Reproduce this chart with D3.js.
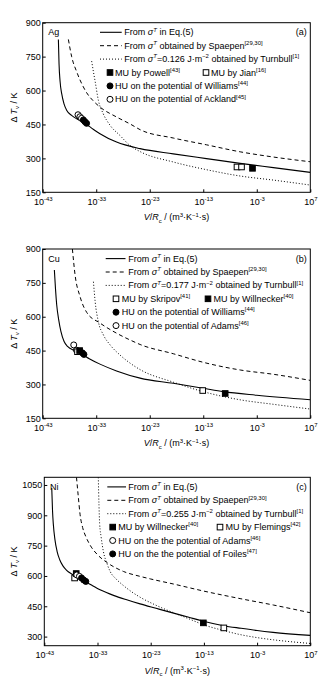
<!DOCTYPE html>
<html><head><meta charset="utf-8">
<script src="https://cdn.jsdelivr.net/npm/d3@7"></script>
<style>
body{margin:0;background:#fff}
svg{display:block}
text{font-family:"Liberation Sans",Arial,sans-serif;fill:#000}
</style>
</head><body>
<svg id="chart" width="333" height="684"></svg>
<script>
// ---------------- data (x = log10(V/Rc), y = ΔTv in K) ----------------
const xTickExps = [-43, -33, -23, -13, -3, 7];
const agYTicks = [150, 300, 450, 600, 750, 900];
const cuYTicks = [150, 300, 450, 600, 750, 900];
const niYTicks = [300, 450, 600, 750, 900, 1050];

const agSolid = [[-40.07,826],[-39.95,720],[-39.75,640],[-39.45,586],[-39.0,540],[-38.5,512],[-37.6,490],[-36.65,475],[-35.5,462],[-34.78,450],[-33.5,428],[-32.3,409],[-29.2,372],[-24.8,343],[-18.6,320],[-12.4,299],[-6.1,278],[0.1,259],[7,238]];
const agDashed = [[-38.2,826],[-37.58,749],[-36.65,683],[-35.6,625],[-34.78,590],[-33.5,553],[-32.3,527],[-29.2,483],[-26.5,450],[-24.8,427],[-18.6,390],[-12.4,360],[-6.1,329],[0.1,306],[7,285]];
const agDotted = [[-33.85,730],[-33.5,680],[-33.2,640],[-32.6,557],[-31.7,498],[-30.4,446],[-28.55,401],[-26.7,357],[-24.8,330],[-18.6,284],[-12.4,250],[-6.1,222],[0.1,204],[7,182]];
const agMUPowell = [[-3.8,256]];
const agMUJian = [[-6.7,262],[-5.85,262]];
const agHUWilliams = [[-35.4,470],[-35.1,462],[-34.8,455]];
const agHUAckland = [[-36.4,493],[-36.05,484],[-35.75,477]];

const cuSolid = [[-40.82,807],[-40.6,720],[-40.38,652],[-40.0,585],[-39.6,535],[-39.0,490],[-38.3,467],[-37.3,452],[-36.3,440],[-35.3,428],[-34.3,414],[-32.3,390],[-29.2,360],[-24.8,328],[-18.6,305],[-13,283],[-9.25,268],[-3,252],[7,232]];
const cuDashed = [[-37.45,900],[-36.95,785],[-36.02,689],[-34.77,619],[-32.3,572],[-29.2,527],[-26.5,495],[-24.8,477],[-18.6,436],[-13,398],[-6.1,364],[0.1,345],[7,318]];
const cuDotted = [[-33.52,755],[-33.2,667],[-32.6,578],[-31.65,519],[-30.4,475],[-28.54,430],[-26.04,384],[-24.82,366],[-18.6,310],[-13,268],[-6.13,232],[0.1,212],[7,191]];
const cuMUSkripov = [[-36.5,445],[-13.1,273]];
const cuMUWillnecker = [[-36.1,450],[-8.9,260]];
const cuHUWilliams = [[-35.6,440],[-35.3,433]];
const cuHUAdams = [[-37.2,475],[-36.7,452]];

const niSolid = [[-41.6,1035],[-41.45,920],[-41.3,855],[-41.0,780],[-40.6,722],[-40.1,680],[-39.5,650],[-38.8,628],[-38,612],[-37,598],[-36,585],[-35.3,573],[-34,553],[-32.3,529],[-30,504],[-27.5,482],[-25,462],[-22,440],[-18.7,416],[-16,397],[-13.1,376],[-9.3,354],[-6,341],[-3,330],[0,321],[7,306]];
const niDashed = [[-36.95,1088],[-36.6,990],[-36.28,905],[-35.8,840],[-35.2,795],[-34.4,753],[-33,705],[-31.3,668],[-28.1,622],[-25,598],[-23,585],[-18.7,560],[-13,525],[-6.2,488],[0.1,456],[7,418]];
const niDotted = [[-32.85,1088],[-32.72,950],[-32.6,860],[-32.3,790],[-31.9,722],[-31.2,660],[-30.6,621],[-29.5,585],[-28.1,552],[-26.5,520],[-25,495],[-22,455],[-18.7,418],[-16,390],[-13,358],[-9.3,330],[-6.2,310],[-3,295],[0.1,284],[7,266]];
const niMUWillnecker = [[-37.0,612],[-13.1,368]];
const niMUFlemings = [[-37.3,590],[-9.25,343]];
const niHUAdams = [[-36.9,605],[-36.4,598]];
const niHUFoiles = [[-36.0,590],[-35.6,580],[-35.2,573]];

// text segments: [text, style]  style: n normal, i italic, s sup, is italic sup, b sub
const legSolid = [["From ","n"],["σ","i"],["T","is"],[" in Eq.(5)","n"]];
const legSpaepen = [["From ","n"],["σ","i"],["T","is"],[" obtained by Spaepen","n"],["[29,30]","s"]];
const agTurnbull = [["From ","n"],["σ","i"],["T","is"],["=0.126 J·m","n"],["−2","s"],[" obtained by Turnbull","n"],["[1]","s"]];
const cuTurnbull = [["From ","n"],["σ","i"],["T","is"],["=0.177 J·m","n"],["−2","s"],[" obtained by Turnbull","n"],["[1]","s"]];
const niTurnbull = [["From ","n"],["σ","i"],["T","is"],["=0.255 J·m","n"],["−2","s"],[" obtained by Turnbull","n"],["[1]","s"]];

// ---------------- layout ----------------
const svg = d3.select("#chart");
const FS = 9;

function rich(textSel, segs, size) {
  let shift = 0;
  segs.forEach(([t, s]) => {
    const sup = s.includes("s"), sub = s.includes("b"), it = s.includes("i");
    const target = sup ? -size * 0.42 : sub ? size * 0.3 : 0;
    const ts = textSel.append("tspan").text(t).attr("dy", (target - shift).toFixed(2));
    shift = target;
    if (sup || sub) ts.attr("font-size", (size * 0.66).toFixed(2));
    if (it) ts.attr("font-style", "italic");
  });
}

function marker(g, type, x, y) {
  const s = 5.6;
  if (type === "fsq" || type === "osq") {
    g.append("rect").attr("x", x - s/2).attr("y", y - s/2).attr("width", s).attr("height", s)
      .attr("fill", type === "fsq" ? "#000" : "#fff").attr("stroke", "#000").attr("stroke-width", 1);
  } else {
    g.append("circle").attr("cx", x).attr("cy", y).attr("r", 3)
      .attr("fill", type === "fci" ? "#000" : "#fff").attr("stroke", "#000").attr("stroke-width", 1);
  }
}

const panels = [
  { id:"a", elem:"Ag", label:"(a)", top:22.7, bottom:192.3, left:42.7, right:310.3, yDomain:[150,900], yTicks:agYTicks,
    solid:agSolid, dashed:agDashed, dotted:agDotted, turnbull:agTurnbull,
    sets:[{d:agHUAckland,t:"oci"},{d:agHUWilliams,t:"fci"},{d:agMUJian,t:"osq"},{d:agMUPowell,t:"fsq"}],
    leg:{lx0:100, lx1:121.7, tx:124.3, mx:110, mtx:115, mx2:206, mtx2:211},
    mrow:[["fsq",[["MU by Powell","n"],["[43]","s"]]],["osq",[["MU by Jian","n"],["[16]","s"]]]],
    crows:[["fci",[["HU on the potential of Williams","n"],["[44]","s"]]],["oci",[["HU on the potential of Ackland","n"],["[45]","s"]]]] },
  { id:"b", elem:"Cu", label:"(b)", top:249, bottom:418.3, left:42.7, right:310.3, yDomain:[150,900], yTicks:cuYTicks,
    solid:cuSolid, dashed:cuDashed, dotted:cuDotted, turnbull:cuTurnbull,
    sets:[{d:cuHUAdams,t:"oci"},{d:cuMUSkripov,t:"osq"},{d:cuMUWillnecker,t:"fsq"},{d:cuHUWilliams,t:"fci"}],
    leg:{lx0:105.7, lx1:125.5, tx:128.3, mx:116, mtx:121.7, mx2:208, mtx2:213.5},
    mrow:[["osq",[["MU by Skripov","n"],["[41]","s"]]],["fsq",[["MU by Willnecker","n"],["[40]","s"]]]],
    crows:[["fci",[["HU on the potential of Williams","n"],["[44]","s"]]],["oci",[["HU on the potential of Adams","n"],["[46]","s"]]]] },
  { id:"c", elem:"Ni", label:"(c)", top:477.3, bottom:645.7, left:44.3, right:310.3, yDomain:[255,1088], yTicks:niYTicks,
    solid:niSolid, dashed:niDashed, dotted:niDotted, turnbull:niTurnbull,
    sets:[{d:niMUFlemings,t:"osq"},{d:niMUWillnecker,t:"fsq"},{d:niHUAdams,t:"oci"},{d:niHUFoiles,t:"fci"}],
    leg:{lx0:107.3, lx1:126, tx:128.3, mx:112.7, mtx:118.3, mx2:220, mtx2:225.5},
    mrow:[["fsq",[["MU by Willnecker","n"],["[40]","s"]]],["osq",[["MU by Flemings","n"],["[42]","s"]]]],
    crows:[["oci",[["HU on the the potential of Adams","n"],["[46]","s"]]],["fci",[["HU on the the potential of Foiles","n"],["[47]","s"]]]] }
];

panels.forEach(p => {
  const x = d3.scaleLog().domain([1e-43, 1e7]).range([p.left, p.right]);
  const y = d3.scaleLinear().domain(p.yDomain).range([p.bottom, p.top]);
  const g = svg.append("g");
  const clipId = "clip" + p.id;
  g.append("clipPath").attr("id", clipId).append("rect")
    .attr("x", p.left).attr("y", p.top).attr("width", p.right - p.left).attr("height", p.bottom - p.top);

  // axes
  const ay = g.append("g").attr("transform", `translate(${p.left},0)`)
    .call(d3.axisLeft(y).tickValues(p.yTicks).tickSizeInner(-3).tickSizeOuter(0).tickPadding(2).tickFormat(d3.format("d")));
  ay.select(".domain").remove();
  ay.selectAll("text").attr("font-size", FS).attr("font-family", '"Liberation Sans",Arial,sans-serif');

  const ax = g.append("g").attr("transform", `translate(0,${p.bottom})`)
    .call(d3.axisBottom(x).tickValues(xTickExps.map(e => Math.pow(10, e))).tickSizeInner(-3).tickSizeOuter(0).tickFormat(() => ""));
  ax.select(".domain").remove();
  ax.selectAll(".tick").each(function(d) {
    const e = Math.round(Math.log10(d));
    const t = d3.select(this).append("text").attr("y", 12.6).attr("text-anchor", "middle")
      .attr("font-size", FS).attr("fill", "#000");
    rich(t, [["10","n"],[String(e),"s"]], FS);
  });

  // frame
  g.append("rect").attr("x", p.left).attr("y", p.top).attr("width", p.right - p.left).attr("height", p.bottom - p.top)
    .attr("fill", "none").attr("stroke", "#000").attr("stroke-width", 1);

  // curves
  const line = d3.line().x(d => x(Math.pow(10, d[0]))).y(d => y(d[1])).curve(d3.curveMonotoneX);
  const cg = g.append("g").attr("clip-path", `url(#${clipId})`);
  cg.append("path").datum(p.solid).attr("d", line).attr("fill", "none").attr("stroke", "#000").attr("stroke-width", 1.1);
  cg.append("path").datum(p.dashed).attr("d", line).attr("fill", "none").attr("stroke", "#000").attr("stroke-width", 1).attr("stroke-dasharray", "4,3");
  cg.append("path").datum(p.dotted).attr("d", line).attr("fill", "none").attr("stroke", "#000").attr("stroke-width", 1).attr("stroke-dasharray", "1,2");

  // markers
  p.sets.forEach(s => s.d.forEach(d => marker(cg, s.t, x(Math.pow(10, d[0])), y(d[1]))));

  // labels
  const r0 = p.top + 9.6, dr = 13.4;
  g.append("text").attr("x", p.left + 5.6).attr("y", r0 + 3).attr("font-size", FS).text(p.elem);
  g.append("text").attr("x", 306.7).attr("y", r0 + 3).attr("text-anchor", "end").attr("font-size", FS).text(p.label);

  // legend lines
  const L = p.leg;
  [[legSolid, null], [legSpaepen, "4,3"], [p.turnbull, "1,2"]].forEach((row, i) => {
    const yy = r0 + i * dr;
    g.append("line").attr("x1", L.lx0).attr("x2", L.lx1).attr("y1", yy).attr("y2", yy)
      .attr("stroke", "#000").attr("stroke-width", i === 0 ? 1.1 : 1).attr("stroke-dasharray", row[1]);
    rich(g.append("text").attr("x", L.tx).attr("y", yy + 3).attr("font-size", FS), row[0], FS);
  });
  // marker row
  const ym = r0 + 3 * dr;
  marker(g, p.mrow[0][0], L.mx, ym);
  rich(g.append("text").attr("x", L.mtx).attr("y", ym + 3).attr("font-size", FS), p.mrow[0][1], FS);
  marker(g, p.mrow[1][0], L.mx2, ym);
  rich(g.append("text").attr("x", L.mtx2).attr("y", ym + 3).attr("font-size", FS), p.mrow[1][1], FS);
  p.crows.forEach((row, i) => {
    const yy = r0 + (4 + i) * dr;
    marker(g, row[0], L.mx, yy);
    rich(g.append("text").attr("x", L.mtx).attr("y", yy + 3).attr("font-size", FS), row[1], FS);
  });

  // axis titles
  const xt = g.append("text").attr("x", (p.left + p.right) / 2).attr("y", p.bottom + 28).attr("text-anchor", "middle").attr("font-size", FS);
  rich(xt, [["V","i"],["/","n"],["R","i"],["c","b"],[" / (m","n"],["3","s"],["·K","n"],["−1","s"],["·s)","n"]], FS);
  const yt = g.append("text").attr("transform", `translate(16.5,${(p.top + p.bottom) / 2}) rotate(-90)`).attr("text-anchor", "middle").attr("font-size", FS);
  rich(yt, [["Δ ","n"],["T","i"],["v","b"],[" / K","n"]], FS);
});
</script>
</body></html>
